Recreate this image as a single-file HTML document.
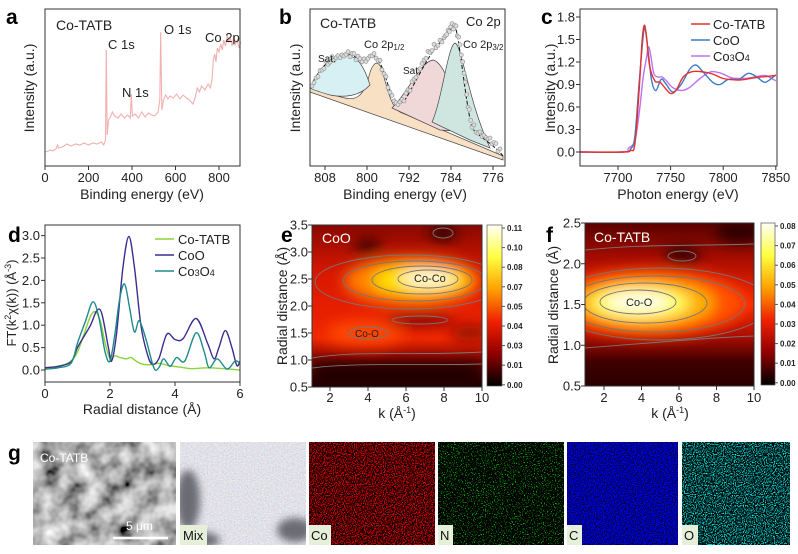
<!DOCTYPE html>
<html><head><meta charset="utf-8"><style>
body{margin:0;background:#fff}
svg{display:block;font-family:"Liberation Sans",Arial,sans-serif}
.t{font-size:13px;fill:#222}
.tt{font-size:14px;fill:#222}
.pl{font-size:21px;font-weight:bold;fill:#000}
.cb{font-size:8px;font-weight:bold;fill:#222}
.ax{fill:none;stroke:#333;stroke-width:1}
</style></head><body>
<svg id="s" width="798" height="554" viewBox="0 0 798 554" xmlns="http://www.w3.org/2000/svg">
<defs>
<filter id="bl" x="-50%" y="-50%" width="200%" height="200%"><feGaussianBlur stdDeviation="7"/></filter>
<filter id="bl2" x="-50%" y="-50%" width="200%" height="200%"><feGaussianBlur stdDeviation="4"/></filter>
<clipPath id="ce"><rect x="312" y="225" width="170" height="162"/></clipPath>
<clipPath id="cf"><rect x="585" y="223" width="169" height="163"/></clipPath>
<linearGradient id="cbar" x1="0" y1="0" x2="0" y2="1">
<stop offset="0" stop-color="#fffff8"/><stop offset="0.2" stop-color="#ffff40"/><stop offset="0.4" stop-color="#ffa000"/><stop offset="0.6" stop-color="#f02000"/><stop offset="0.8" stop-color="#900000"/><stop offset="1" stop-color="#000"/></linearGradient>
<linearGradient id="ge" x1="0" y1="225" x2="0" y2="387" gradientUnits="userSpaceOnUse">
<stop offset="0" stop-color="#8a0800"/><stop offset="0.3" stop-color="#d81800"/><stop offset="0.55" stop-color="#e82000"/><stop offset="0.7" stop-color="#f02800"/><stop offset="0.82" stop-color="#900800"/><stop offset="1" stop-color="#200000"/></linearGradient>
<linearGradient id="gf" x1="0" y1="223" x2="0" y2="386" gradientUnits="userSpaceOnUse">
<stop offset="0" stop-color="#5a0200"/><stop offset="0.22" stop-color="#a80c00"/><stop offset="0.5" stop-color="#ff2800"/><stop offset="0.7" stop-color="#a80c00"/><stop offset="0.85" stop-color="#400000"/><stop offset="1" stop-color="#2a0000"/></linearGradient>
<filter id="fR" x="0" y="0" width="1" height="1"><feTurbulence type="fractalNoise" baseFrequency="0.9" numOctaves="1" seed="3"/><feColorMatrix type="matrix" values="4 0 0 0 -1.9  0 0 0 0 0  0 0 0 0 0  0 0 0 0 1"/></filter>
<filter id="fG" x="0" y="0" width="1" height="1"><feTurbulence type="fractalNoise" baseFrequency="0.9" numOctaves="1" seed="5"/><feColorMatrix type="matrix" values="0 0 0 0 0  0 5 0 0 -3.0  0 0 0 0 0  0 0 0 0 1"/></filter>
<filter id="fB" x="0" y="0" width="1" height="1"><feTurbulence type="fractalNoise" baseFrequency="0.9" numOctaves="1" seed="7"/><feColorMatrix type="matrix" values="0 0 0 0 0  0 0 0 0 0  0 0 3 0 -1.1  0 0 0 0 1"/></filter>
<filter id="fC" x="0" y="0" width="1" height="1"><feTurbulence type="fractalNoise" baseFrequency="0.9" numOctaves="1" seed="9"/><feColorMatrix type="matrix" values="0 0 0 0 0  0 4 0 0 -2.0  0 4 0 0 -2.0  0 0 0 0 1"/></filter>
<filter id="fS" x="0" y="0" width="1" height="1"><feTurbulence type="fractalNoise" baseFrequency="0.05" numOctaves="3" seed="4"/><feColorMatrix type="matrix" values="1.4 0 0 0 -0.25  1.4 0 0 0 -0.25  1.4 0 0 0 -0.25  0 0 0 0 1"/></filter>
<filter id="fM" x="0" y="0" width="1" height="1"><feTurbulence type="fractalNoise" baseFrequency="0.7" numOctaves="1" seed="11"/><feColorMatrix type="matrix" values="0.6 0 0 0 0.45  0 0.6 0 0 0.45  0 0 0.5 0 0.55  0 0 0 0 1"/></filter>
</defs>

<text class="pl" x="6" y="24">a</text>
<text class="pl" x="279" y="24">b</text>
<text class="pl" x="541" y="24">c</text>
<text class="pl" x="8" y="242">d</text>
<text class="pl" x="281" y="242">e</text>
<text class="pl" x="546" y="242">f</text>
<text class="pl" x="8" y="460">g</text>

<!-- a -->
<path id="pa" fill="none" stroke="#f2b0b0" stroke-width="1.1"/>
<rect class="ax" x="45" y="9" width="195" height="157"/>
<g id="ta"></g>
<text class="tt" x="56" y="30">Co-TATB</text>
<text class="t" x="108" y="49">C 1s</text>
<text class="t" x="122" y="97">N 1s</text>
<text class="t" x="164" y="34">O 1s</text>
<text class="t" x="205" y="42">Co 2p</text>
<text class="tt" transform="translate(34,88) rotate(-90)" text-anchor="middle">Intensity (a.u.)</text>
<text class="tt" x="142" y="199" text-anchor="middle">Binding energy (eV)</text>

<!-- b -->
<g>
<path d="M310,88 C325,92 335,96 345,98 C355,100 362,98 368,80 C372,62 378,58 382,70 C388,92 392,108 400,112 L503,156 L503,160 L310,92Z" fill="#f7e0c4" stroke="#444" stroke-width="0.7"/>
<path d="M310,88 C318,70 330,55 345,55 C355,56 362,60 370,85 C360,96 345,98 330,95 C320,92 313,90 310,88Z" fill="#d6f0f4" stroke="#444" stroke-width="0.7"/>
<path d="M392,108 C410,90 420,62 433,60 C445,62 455,100 470,132 L440,130 Z" fill="#f0d8d8" stroke="#444" stroke-width="0.7"/>
<path d="M432,122 C442,100 448,45 455,43 C462,45 468,100 490,148 L470,140 Z" fill="#cfe6e0" stroke="#444" stroke-width="0.7"/>
<path d="M310,88 C320,65 335,55 345,55 C352,52 357,60 365,62 C372,50 378,55 385,75 C392,100 398,108 405,100 C420,75 430,50 445,38 C450,30 453,24 455,26 C460,40 465,100 472,128 C480,138 495,145 503,156" fill="none" stroke="#111" stroke-width="1" stroke-dasharray="4,2"/>
<g id="dots" fill="#ddd" stroke="#888" stroke-width="0.6"></g>
</g>
<rect class="ax" x="310" y="9" width="195" height="157"/>
<g id="tb"></g>
<text class="tt" x="320" y="28">Co-TATB</text>
<text x="466" y="26" class="t">Co 2p</text>
<text x="318" y="62" style="font-size:10px;fill:#222">Sat.</text>
<text x="364" y="48" style="font-size:11px;fill:#222">Co 2p<tspan style="font-size:8px" dy="2">1/2</tspan></text>
<text x="403" y="74" style="font-size:10px;fill:#222">Sat.</text>
<text x="463" y="48" style="font-size:11px;fill:#222">Co 2p<tspan style="font-size:8px" dy="2">3/2</tspan></text>
<text class="tt" transform="translate(300,88) rotate(-90)" text-anchor="middle">Intensity (a.u.)</text>
<text class="tt" x="405" y="199" text-anchor="middle">Binding energy (eV)</text>

<!-- c -->
<g id="pc"></g>
<rect class="ax" x="580" y="9" width="197" height="157"/>
<g id="tc"></g>
<line x1="691" y1="24" x2="710" y2="24" stroke="#e8302a" stroke-width="1.5"/><text class="t" x="713" y="29">Co-TATB</text>
<line x1="691" y1="40" x2="710" y2="40" stroke="#3a7cc4" stroke-width="1.5"/><text class="t" x="713" y="45">CoO</text>
<line x1="691" y1="56" x2="710" y2="56" stroke="#c070f0" stroke-width="1.5"/><text class="t" x="713" y="61">Co<tspan style="font-size:9px">3</tspan>O<tspan style="font-size:9px">4</tspan></text>
<text class="tt" transform="translate(555,88) rotate(-90)" text-anchor="middle">Intensity (a.u.)</text>
<text class="tt" x="678" y="199" text-anchor="middle">Photon energy (eV)</text>

<!-- d -->
<g id="pd"></g>
<rect class="ax" x="45" y="225" width="195" height="157"/>
<g id="td"></g>
<line x1="155" y1="239" x2="174" y2="239" stroke="#8bd43a" stroke-width="1.5"/><text class="t" x="178" y="244">Co-TATB</text>
<line x1="155" y1="255" x2="174" y2="255" stroke="#3b2d8f" stroke-width="1.5"/><text class="t" x="178" y="260">CoO</text>
<line x1="155" y1="271" x2="174" y2="271" stroke="#1f8a8a" stroke-width="1.5"/><text class="t" x="178" y="276">Co<tspan style="font-size:9px">3</tspan>O<tspan style="font-size:9px">4</tspan></text>
<text class="tt" transform="translate(16,303) rotate(-90)" text-anchor="middle" style="font-size:13px">FT(k<tspan dy="-5" style="font-size:9px">2</tspan><tspan dy="5">χ(k)) (Å</tspan><tspan dy="-5" style="font-size:9px">-3</tspan><tspan dy="5">)</tspan></text>
<text class="tt" x="142" y="414" text-anchor="middle">Radial distance (Å)</text>

<!-- e -->
<g clip-path="url(#ce)">
<rect x="312" y="225" width="170" height="162" fill="url(#ge)"/>
<g filter="url(#bl)">
<ellipse cx="412" cy="281" rx="68" ry="24" fill="#ff8000"/>
<ellipse cx="420" cy="280" rx="48" ry="15" fill="#ffe000"/>
<ellipse cx="428" cy="278" rx="26" ry="8" fill="#fffbe0"/>
<ellipse cx="365" cy="333" rx="38" ry="12" fill="#ff4800"/>
<ellipse cx="420" cy="320" rx="35" ry="6" fill="#7a0400"/>
<ellipse cx="470" cy="333" rx="20" ry="8" fill="#900800"/>
<ellipse cx="443" cy="233" rx="14" ry="7" fill="#200000"/>
<ellipse cx="368" cy="246" rx="14" ry="7" fill="#300000"/>
<rect x="312" y="362" width="170" height="30" fill="#220000"/>
</g>
<g fill="none" stroke="#777" stroke-width="0.9">
<ellipse cx="428" cy="279" rx="30" ry="9"/>
<ellipse cx="422" cy="280" rx="50" ry="14"/>
<ellipse cx="415" cy="281" rx="72" ry="20"/>
<ellipse cx="410" cy="282" rx="95" ry="27"/>
<ellipse cx="368" cy="333" rx="20" ry="6"/>
<ellipse cx="420" cy="320" rx="28" ry="4"/>
<ellipse cx="443" cy="233" rx="10" ry="5"/>
<path d="M312,358 C360,350 420,356 482,352"/>
<path d="M312,368 C360,362 420,366 482,364"/>
</g>
</g>
<rect class="ax" x="312" y="225" width="170" height="162"/>
<text x="322" y="243" style="font-size:14px;fill:#fff">CoO</text>
<text x="414" y="282" class="t" style="font-size:11px">Co-Co</text>
<text x="355" y="337" class="t" style="font-size:10px">Co-O</text>
<rect x="487" y="225" width="15" height="161" fill="url(#cbar)" stroke="#555" stroke-width="0.7"/>
<g id="cbe"></g>
<g id="te"></g>
<text class="tt" transform="translate(287,306) rotate(-90)" text-anchor="middle">Radial distance (Å)</text>
<text class="tt" x="397" y="418" text-anchor="middle">k (Å<tspan dy="-5" style="font-size:9px">-1</tspan><tspan dy="5">)</tspan></text>

<!-- f -->
<g clip-path="url(#cf)">
<rect x="585" y="223" width="169" height="163" fill="url(#gf)"/>
<g filter="url(#bl)">
<ellipse cx="650" cy="303" rx="95" ry="34" fill="#ff5000"/>
<ellipse cx="645" cy="303" rx="70" ry="24" fill="#ffb000"/>
<ellipse cx="640" cy="303" rx="50" ry="16" fill="#ffff60"/>
<ellipse cx="638" cy="302" rx="32" ry="9" fill="#fffff0"/>
<ellipse cx="682" cy="256" rx="18" ry="8" fill="#250000"/>
<ellipse cx="740" cy="232" rx="25" ry="10" fill="#250000"/>
</g>
<g fill="none" stroke="#777" stroke-width="0.9">
<ellipse cx="638" cy="302" rx="38" ry="12"/>
<ellipse cx="645" cy="303" rx="62" ry="20"/>
<ellipse cx="655" cy="304" rx="90" ry="28"/>
<ellipse cx="660" cy="304" rx="110" ry="36"/>
<ellipse cx="682" cy="256" rx="14" ry="5"/>
<path d="M585,250 C640,244 700,246 754,244"/>
<path d="M585,348 C640,344 700,338 754,336"/>
</g>
</g>
<rect class="ax" x="585" y="223" width="169" height="163"/>
<text x="594" y="242" style="font-size:14px;fill:#fff">Co-TATB</text>
<text x="626" y="306" class="t" style="font-size:11px">Co-O</text>
<rect x="761" y="223" width="14" height="162" fill="url(#cbar)" stroke="#555" stroke-width="0.7"/>
<g id="cbf"></g>
<g id="tf"></g>
<text class="tt" transform="translate(558,305) rotate(-90)" text-anchor="middle">Radial distance (Å)</text>
<text class="tt" x="670" y="418" text-anchor="middle">k (Å<tspan dy="-5" style="font-size:9px">-1</tspan><tspan dy="5">)</tspan></text>

<!-- g -->
<rect x="33" y="442" width="143" height="103" filter="url(#fS)"/>
<text x="40" y="462" style="font-size:12px;fill:#fff">Co-TATB</text>
<text x="126" y="530" style="font-size:12px;fill:#fff">5 μm</text>
<line x1="113" y1="538" x2="168" y2="538" stroke="#fff" stroke-width="2.5"/>
<svg x="180" y="442" width="126" height="103" overflow="hidden">
<rect x="0" y="0" width="126" height="103" filter="url(#fM)"/>
<g filter="url(#bl2)" fill="#505058" opacity="0.8"><ellipse cx="8" cy="58" rx="12" ry="30"/><ellipse cx="115" cy="88" rx="18" ry="12"/><ellipse cx="20" cy="98" rx="20" ry="8"/></g>
</svg>
<rect x="309" y="442" width="126" height="103" filter="url(#fR)"/>
<rect x="438" y="442" width="126" height="103" filter="url(#fG)"/>
<rect x="567" y="442" width="111" height="103" filter="url(#fB)"/>
<rect x="682" y="442" width="108" height="103" filter="url(#fC)"/>
<g style="font-size:13px;fill:#111">
<rect x="180" y="525" width="27" height="20" fill="#e6efd9"/><text x="183" y="540">Mix</text>
<rect x="309" y="525" width="22" height="20" fill="#e6efd9"/><text x="311" y="540">Co</text>
<rect x="438" y="525" width="15" height="20" fill="#e6efd9"/><text x="440" y="540">N</text>
<rect x="567" y="525" width="15" height="20" fill="#e6efd9"/><text x="569" y="540">C</text>
<rect x="682" y="525" width="16" height="20" fill="#e6efd9"/><text x="684" y="540">O</text>
</g>
</svg>
<script>
var NS="http://www.w3.org/2000/svg";
function el(p,t,a,txt){var e=document.createElementNS(NS,t);for(var k in a)e.setAttribute(k,a[k]);if(txt!==undefined)e.textContent=txt;document.getElementById(p).appendChild(e);return e;}
function cr(pts){var d="M"+pts[0][0].toFixed(1)+","+pts[0][1].toFixed(1);for(var i=0;i<pts.length-1;i++){var p0=pts[i-1]||pts[i],p1=pts[i],p2=pts[i+1],p3=pts[i+2]||p2;var c1=[p1[0]+(p2[0]-p0[0])/6,p1[1]+(p2[1]-p0[1])/6],c2=[p2[0]-(p3[0]-p1[0])/6,p2[1]-(p3[1]-p1[1])/6];d+="C"+c1[0].toFixed(1)+","+c1[1].toFixed(1)+" "+c2[0].toFixed(1)+","+c2[1].toFixed(1)+" "+p2[0].toFixed(1)+","+p2[1].toFixed(1);}return d;}
function xt(g,vals,fx,y0,ly){vals.forEach(function(v){var x=fx(v);el(g,"line",{x1:x,y1:y0,x2:x,y2:y0+4,stroke:"#333"});el(g,"text",{x:x,y:ly,"text-anchor":"middle","class":"t"},String(v));});}
function yt(g,vals,fy,x0,lx,fmt){vals.forEach(function(v){var y=fy(v);el(g,"line",{x1:x0,y1:y,x2:x0-4,y2:y,stroke:"#333"});el(g,"text",{x:lx,y:y+4.5,"text-anchor":"end","class":"t"},fmt?v.toFixed(1):String(v));});}
(function(){var fx=function(E){return 45+E*0.2175;};
var raw=[[0,152],[15,151],[25,150],[35,151],[50,149],[58,145],[62,148],[80,147],[100,144],[120,146],[140,144],[160,145],[180,143],[200,145],[220,143],[240,144],[260,142],[270,145],[278,140],[282,50],[286,135],[292,120],[300,117],[310,112],[320,116],[335,118],[350,114],[365,118],[380,115],[392,118],[397,94],[402,116],[415,114],[430,118],[445,112],[460,117],[475,113],[490,115],[505,116],[520,112],[528,100],[532,32],[537,110],[545,100],[555,95],[565,99],[575,96],[590,98],[605,94],[620,99],[635,95],[650,98],[665,100],[680,104],[690,98],[700,88],[710,92],[720,86],[735,90],[750,84],[760,88],[768,80],[774,60],[780,54],[786,62],[792,48],[800,52],[808,44],[815,50],[822,40],[830,46],[838,35],[845,42],[852,38],[860,46],[868,36],[876,44],[884,40],[892,48],[900,42]];
var d="M"+raw.map(function(p){return fx(p[0]).toFixed(1)+","+p[1];}).join("L");document.getElementById("pa").setAttribute("d",d);
xt("ta",[0,200,400,600,800],fx,166,182);})();
(function(){var fx=function(E){return 325+(808-E)*5.25;};xt("tb",[808,800,792,784,776],fx,166,182);
var env=[[312,86],[318,75],[324,66],[330,60],[336,57],[342,56],[348,54],[354,56],[360,60],[366,61],[372,54],[378,58],[384,72],[390,92],[396,104],[402,102],[408,92],[414,80],[420,68],[426,56],[432,48],[438,44],[444,38],[448,32],[452,26],[456,28],[460,45],[464,72],[468,105],[472,125],[478,132],[484,136],[490,140],[496,146],[502,154]];
for(var i=0;i<env.length-1;i++){for(var j=0;j<3;j++){var t=j/3;var x=env[i][0]+(env[i+1][0]-env[i][0])*t,y=env[i][1]+(env[i+1][1]-env[i][1])*t+Math.sin(i*7+j*3)*2.5;el("dots","circle",{cx:x.toFixed(1),cy:y.toFixed(1),r:2});}}})();
(function(){var fx=function(E){return 618+(E-7700)*1.052;},fy=function(m){return 152-m*75;};
var S={"#e8302a":[[7664,0],[7705,0],[7712,0.02],[7716,0.1],[7720,0.8],[7723,1.5],[7725,1.69],[7727,1.55],[7730,1.15],[7735,0.95],[7740,0.93],[7745,0.85],[7750,0.78],[7755,0.82],[7762,1.0],[7770,1.07],[7780,1.07],[7790,1.04],[7800,0.98],[7815,0.96],[7830,0.99],[7850,1.02]],
"#3a7cc4":[[7664,0],[7705,0],[7712,0.04],[7716,0.2],[7720,0.9],[7724,1.55],[7726,1.63],[7729,1.3],[7732,0.95],[7736,0.82],[7741,0.97],[7745,0.92],[7752,0.8],[7760,0.9],[7768,1.1],[7774,1.16],[7780,1.08],[7790,0.93],[7797,0.9],[7805,0.97],[7815,0.97],[7824,1.05],[7832,1.0],[7840,0.93],[7850,1.03]],
"#c070f0":[[7664,0],[7705,0],[7710,0.05],[7716,0.15],[7720,0.5],[7724,1.0],[7727,1.25],[7729,1.4],[7731,1.3],[7734,1.05],[7738,1.0],[7742,1.0],[7746,0.95],[7752,0.86],[7760,0.82],[7768,0.86],[7778,0.98],[7788,1.07],[7798,1.05],[7808,0.99],[7820,0.98],[7830,1.0],[7840,1.02],[7850,0.95]]};
["#c070f0","#3a7cc4","#e8302a"].forEach(function(c){el("pc","path",{d:cr(S[c].map(function(p){return[fx(p[0]),fy(p[1])];})),fill:"none",stroke:c,"stroke-width":1.4});});
xt("tc",[7700,7750,7800,7850],fx,166,182);yt("tc",[1.8,1.5,1.2,0.9,0.6,0.3,0.0],fy,580,575,1);})();
(function(){var fx=function(r){return 45+r*32.5;},fy=function(v){return 370-v*44.8;};
var S={"#8bd43a":[[0,0.05],[0.5,0.1],[0.8,0.2],[1.0,0.4],[1.2,0.8],[1.4,1.2],[1.55,1.3],[1.7,1.1],[1.85,0.6],[2.0,0.25],[2.15,0.32],[2.3,0.28],[2.5,0.25],[2.65,0.28],[2.8,0.2],[3.0,0.13],[3.3,0.12],[3.5,0.15],[3.8,0.1],[4.2,0.06],[4.5,0.03],[5.0,0.05],[5.5,0.03],[6,0]],
"#3b2d8f":[[0,0.05],[0.4,0.08],[0.8,0.18],[1.0,0.5],[1.2,0.75],[1.4,1.0],[1.6,1.33],[1.75,1.25],[1.95,0.5],[2.05,0.2],[2.2,0.8],[2.4,2.3],[2.58,2.98],[2.75,2.3],[2.95,1.0],[3.15,0.35],[3.3,0.13],[3.5,0.25],[3.75,0.8],[4.0,0.68],[4.25,0.7],[4.65,1.15],[5.0,0.6],[5.2,0.25],[5.35,0.5],[5.55,0.88],[5.75,0.5],[5.9,0.1],[6,0.2]],
"#1f8a8a":[[0,0.02],[0.4,0.05],[0.8,0.15],[1.0,0.6],[1.25,1.1],[1.47,1.52],[1.65,1.2],[1.85,0.4],[2.0,0.2],[2.15,0.8],[2.3,1.6],[2.45,1.92],[2.6,1.4],[2.75,0.85],[2.9,1.1],[3.1,0.7],[3.35,0.05],[3.5,0.05],[3.65,0.25],[3.85,0.08],[4.05,0.28],[4.3,0.2],[4.65,0.83],[4.9,0.4],[5.05,0.05],[5.3,0.25],[5.6,0.02],[5.85,0.2],[6,0.15]]};
["#8bd43a","#3b2d8f","#1f8a8a"].forEach(function(c){el("pd","path",{d:cr(S[c].map(function(p){return[fx(p[0]),fy(p[1])];})),fill:"none",stroke:c,"stroke-width":1.4});});
xt("td",[0,2,4,6],fx,382,398);yt("td",[3.0,2.5,2.0,1.5,1.0,0.5,0.0],fy,45,40,1);})();
(function(){var fx=function(k){return 330+(k-2)*19;},fy=function(r){return 387-(r-0.5)*54;};
xt("te",[2,4,6,8,10],fx,387,402);yt("te",[3.5,3.0,2.5,2.0,1.5,1.0,0.5],fy,312,308,1);
var L=["0.11","0.10","0.08","0.07","0.05","0.04","0.03","0.01","0.00"];L.forEach(function(s,i){var y=228+i*19.6;el("cbe","line",{x1:502,y1:y,x2:505,y2:y,stroke:"#555"});el("cbe","text",{x:507,y:y+3,"class":"cb"},s);});
var gx=function(k){return 604+(k-2)*18.75;},gy=function(r){return 386-(r-0.5)*81.5;};
xt("tf",[2,4,6,8,10],gx,386,402);yt("tf",[2.5,2.0,1.5,1.0,0.5],gy,585,581,1);
var M=["0.08","0.07","0.06","0.05","0.04","0.03","0.02","0.01","0.00"];M.forEach(function(s,i){var y=226+i*19.6;el("cbf","line",{x1:775,y1:y,x2:778,y2:y,stroke:"#555"});el("cbf","text",{x:780,y:y+3,"class":"cb"},s);});})();
</script>
</body></html>
